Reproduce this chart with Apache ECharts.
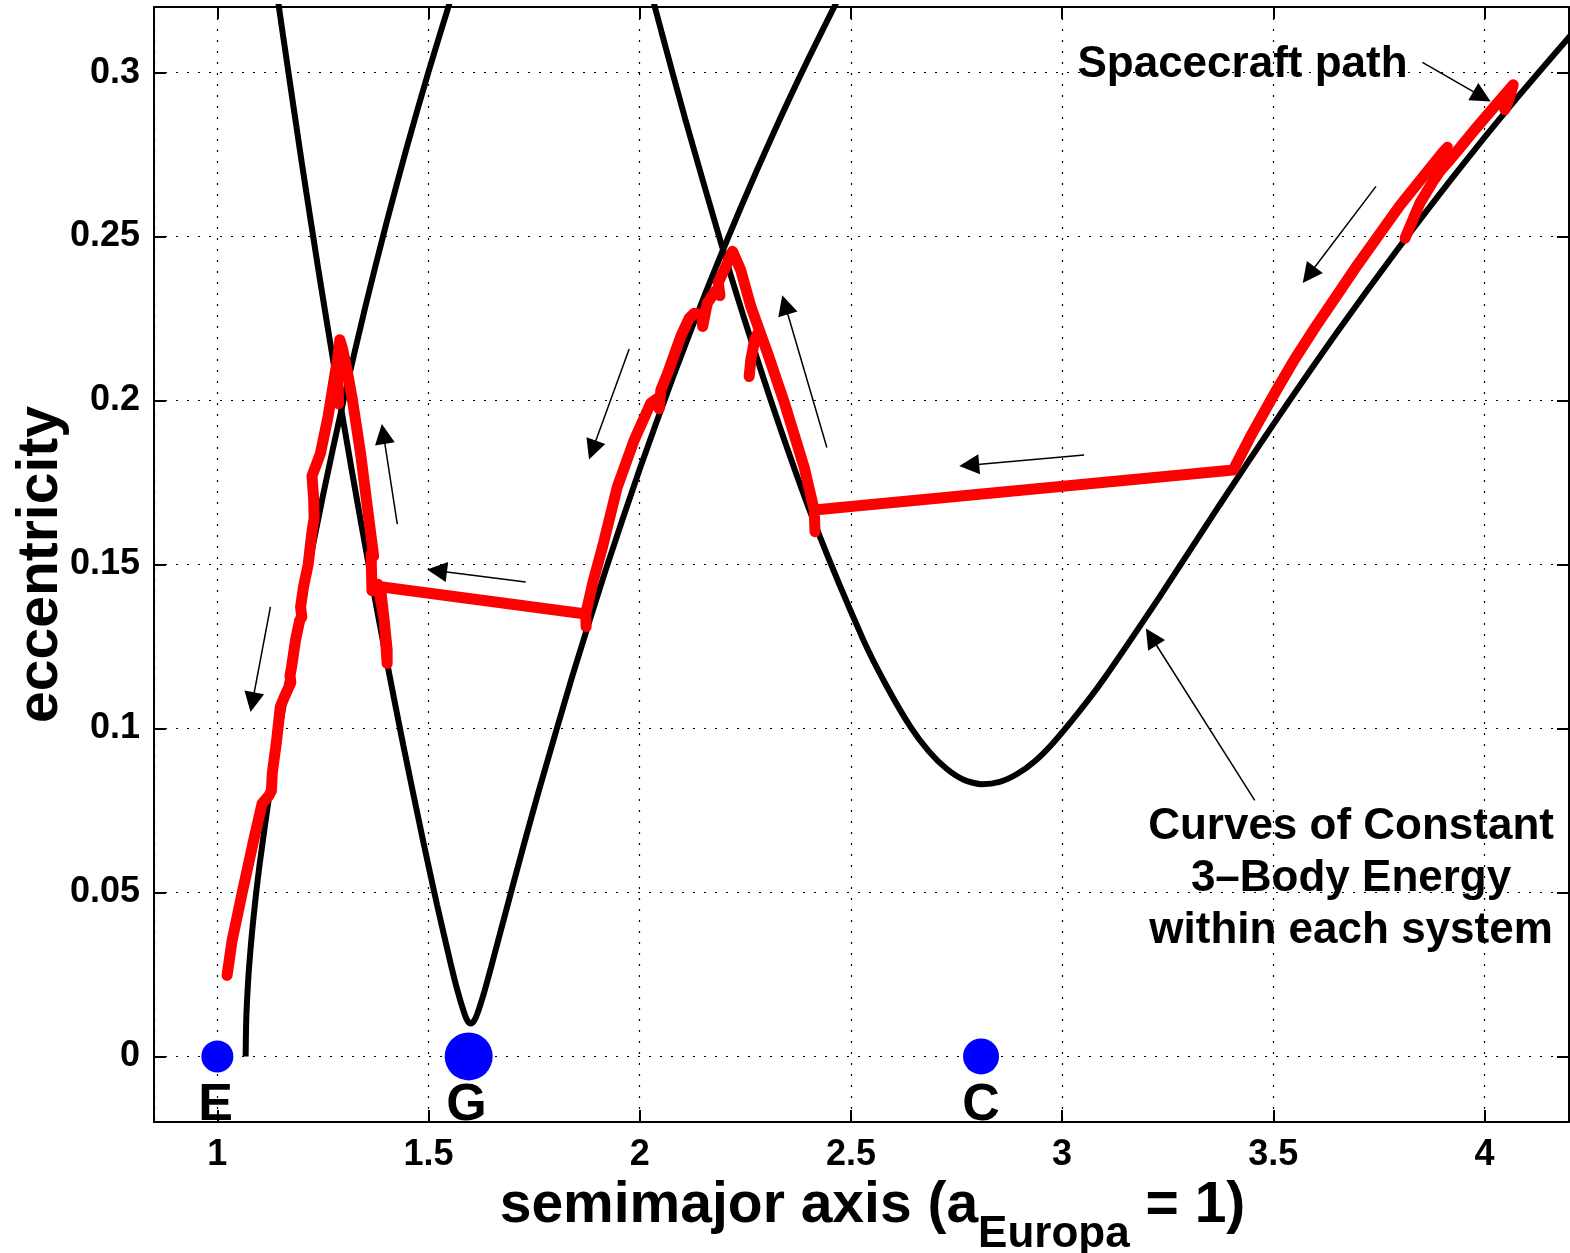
<!DOCTYPE html>
<html>
<head>
<meta charset="utf-8">
<script src="https://cdn.jsdelivr.net/npm/echarts@6/dist/echarts.min.js"></script>
<style>html,body{margin:0;padding:0;background:#fff}#c{width:1570px;height:1253px}</style>
</head>
<body>
<div id="c"></div>
<script>
// ---- tick labels ----
const xTickValues = [1, 1.5, 2, 2.5, 3, 3.5, 4];
const xTickLabels = ['1', '1.5', '2', '2.5', '3', '3.5', '4'];
const yTickValues = [0, 0.05, 0.1, 0.15, 0.2, 0.25, 0.3];
const yTickLabels = ['0', '0.05', '0.1', '0.15', '0.2', '0.25', '0.3'];

// ---- curves of constant 3-body energy (a, e) ----
const europaCurve = [[1.067,0],[1.068,0.0094],[1.07,0.0163],[1.075,0.0270],[1.085,0.0416],[1.1,0.0585],[1.125,0.0815],[1.15,0.1021],[1.2,0.1385],[1.25,0.1710],[1.3,0.2008],[1.35,0.2284],[1.4,0.2540],[1.45,0.2779],[1.5,0.3003],[1.55,0.3213],[1.56,0.3253]];
const ganymedeCurve = [[1.136,0.3289],[1.152,0.3144],[1.2,0.2724],[1.24,0.2392],[1.28,0.2076],[1.32,0.1774],[1.36,0.1486],[1.40,0.1212],[1.44,0.0950],[1.488,0.0652],[1.52,0.0463],[1.552,0.0285],[1.568,0.0203],[1.584,0.0134],[1.592,0.0109],[1.6,0.0100],[1.608,0.0109],[1.616,0.0132],[1.632,0.0197],[1.648,0.0272],[1.68,0.0427],[1.72,0.0619],[1.76,0.0805],[1.84,0.1158],[1.92,0.1486],[2.0,0.1791],[2.08,0.2076],[2.16,0.2342],[2.24,0.2591],[2.32,0.2825],[2.4,0.3044],[2.48,0.3251]];
const callistoCurve = [[2.0232,0.3262],[2.0513,0.3125],[2.1075,0.2859],[2.1918,0.2483],[2.248,0.2247],[2.3323,0.1917],[2.4166,0.1617],[2.529,0.1271],[2.585,0.1128],[2.6414,0.1004],[2.684,0.0931],[2.7257,0.0878],[2.768,0.0843],[2.81,0.0830],[2.852,0.0837],[2.8943,0.0862],[2.936,0.0901],[2.9786,0.0956],[3.035,0.1043],[3.091,0.1137],[3.2315,0.1403],[3.372,0.1680],[3.5125,0.1951],[3.653,0.2212],[3.7935,0.2460],[3.934,0.2696],[4.0745,0.2919],[4.215,0.3130]];

// ---- spacecraft path (a, e) ----
const pathTopRight = [[4.048,0.2887],[4.060,0.2927],[4.068,0.2963],[4.024,0.2897],[3.977,0.2826],[3.938,0.2765],[3.918,0.2734],[3.895,0.2700],[3.878,0.2668],[3.847,0.2602],[3.827,0.2541],[3.812,0.2495]];
const pathMain = [
  [3.912,0.2772],[3.900,0.2755],[3.850,0.2675],[3.800,0.2595],[3.750,0.2505],[3.700,0.2415],[3.650,0.2320],[3.600,0.2225],[3.550,0.2125],[3.500,0.2015],[3.450,0.1900],[3.405,0.1788],
  [2.413,0.1666],[2.415,0.1600],[2.413,0.1666],
  [2.389,0.1798],[2.342,0.1995],[2.303,0.2143],[2.283,0.2215],
  [2.272,0.2185],[2.263,0.2124],[2.259,0.2073],[2.263,0.2124],[2.272,0.2185],[2.283,0.2215],
  [2.263,0.2287],[2.239,0.2398],[2.2196,0.2455],
  [2.200,0.2398],[2.186,0.2360],[2.190,0.2320],[2.180,0.2335],[2.160,0.2297],[2.149,0.2226],[2.147,0.2262],[2.129,0.2266],[2.117,0.2251],[2.097,0.2195],[2.066,0.2083],[2.050,0.2032],[2.046,0.1975],[2.040,0.2005],[2.026,0.1992],[1.987,0.1880],[1.947,0.1737],[1.912,0.1554],[1.890,0.1450],[1.872,0.1349],[1.873,0.1310],[1.872,0.1349],
  [1.386,0.1432],[1.395,0.1330],[1.402,0.1240],[1.402,0.1198],[1.395,0.1330],[1.380,0.1440],[1.366,0.1420],[1.364,0.1530],[1.370,0.1525],[1.359,0.1636],[1.339,0.1839],[1.320,0.2000],[1.307,0.2093],[1.296,0.2160],[1.290,0.2185],
  [1.284,0.2120],[1.287,0.1990],[1.284,0.2120],
  [1.280,0.2093],[1.262,0.1950],[1.244,0.1839],[1.230,0.1790],[1.224,0.1770],[1.228,0.1700],[1.229,0.1640],[1.224,0.1600],[1.215,0.1500],[1.204,0.1432],[1.197,0.1370],[1.200,0.1340],[1.195,0.1330],[1.185,0.1269],[1.176,0.1190],[1.172,0.1160],[1.174,0.1140],[1.160,0.1100],[1.149,0.1066],[1.140,0.0960],[1.130,0.0863],[1.128,0.0810],[1.122,0.0795],[1.106,0.0771],[1.086,0.0659],[1.0585,0.0497],[1.035,0.0354],[1.023,0.0247]
];

// ---- moons ----
const moonNames = ['E', 'G', 'C'];
const moonA = [1.0, 1.595, 2.808];
const moonE = [0, 0, 0];
const moonSize = [32, 48, 36];
const moonLabelA = [0.996, 1.590, 2.808];
const moonLabelE = [-0.015, -0.015, -0.015];

// ---- arrows (tail -> head) ----
const arrowTail = [[3.853,0.3031],[3.743,0.2653],[3.052,0.1834],[2.443,0.1857],[1.975,0.2157],[1.730,0.1447],[1.426,0.1623],[1.1256,0.1371],[3.456,0.0781]];
const arrowHead = [[3.994,0.2927],[3.584,0.2383],[2.780,0.1803],[2.344,0.2292],[1.888,0.1849],[1.520,0.1481],[1.393,0.1898],[1.083,0.1080],[3.211,0.1279]];

// ---- annotations ----
const noteTexts = ['Spacecraft path', 'Curves of Constant\n3\u2013Body Energy\nwithin each system'];
const notePos = [[3.427, 0.3025], [3.684, 0.0542]];

const FONT = "'Liberation Sans', Arial, Helvetica, sans-serif";
const fmt = (vals, labels) => v => {
  for (let i = 0; i < vals.length; i++) if (Math.abs(v - vals[i]) < 1e-9) return labels[i];
  return '';
};
const axisLineStyle = { color: '#000', width: 2 };
const tickStyle = { show: true, inside: true, length: 12, lineStyle: { color: '#000', width: 2 } };
const gridLine = { show: true, lineStyle: { color: '#000', width: 1.2, type: [2, 9] } };

const chart = echarts.init(document.getElementById('c'), null, { renderer: 'canvas', width: 1570, height: 1253 });

const blackLine = (data) => ({
  type: 'line', data: data, symbol: 'none', showSymbol: false, smooth: 0.25, silent: true, z: 2,
  lineStyle: { color: '#000', width: 6 }
});
const redLine = (data) => ({
  type: 'line', data: data, symbol: 'none', showSymbol: false, silent: true, z: 3,
  lineStyle: { color: '#ff0000', width: 11, cap: 'round', join: 'round' }
});

const option = {
  animation: false,
  backgroundColor: '#fff',
  grid: { left: 154, top: 7, width: 1415, height: 1115, containLabel: false, outerBoundsMode: 'none' },
  xAxis: [
    {
      type: 'value', min: 0.85, max: 4.2, minInterval: 0.5, maxInterval: 0.5, position: 'bottom',
      axisLine: { show: true, onZero: false, lineStyle: axisLineStyle },
      axisTick: tickStyle,
      axisLabel: { show: true, margin: 15, fontSize: 36, fontWeight: 'bold', color: '#000', fontFamily: FONT, formatter: fmt(xTickValues, xTickLabels) },
      splitLine: gridLine,
      name: '{m|semimajor axis (a}{s|Europa}{m| = 1)}',
      nameLocation: 'middle', nameGap: 33,
      nameTextStyle: {
        color: '#000', fontFamily: FONT, fontWeight: 'bold', fontSize: 57, padding: [0, 0, 0, 22],
        rich: {
          m: { fontSize: 57, fontWeight: 'bold', fontFamily: FONT, color: '#000', lineHeight: 64, verticalAlign: 'top' },
          s: { fontSize: 44, fontWeight: 'bold', fontFamily: FONT, color: '#000', lineHeight: 44, verticalAlign: 'top', padding: [35, 0, 0, 0] }
        }
      }
    },
    {
      type: 'value', min: 0.85, max: 4.2, minInterval: 0.5, maxInterval: 0.5, position: 'top',
      axisLine: { show: true, onZero: false, lineStyle: axisLineStyle },
      axisTick: tickStyle, axisLabel: { show: false }, splitLine: { show: false }
    }
  ],
  yAxis: [
    {
      type: 'value', min: -0.02, max: 0.32, minInterval: 0.05, maxInterval: 0.05, position: 'left',
      axisLine: { show: true, onZero: false, lineStyle: axisLineStyle },
      axisTick: tickStyle,
      axisLabel: { show: true, margin: 14, fontSize: 36, fontWeight: 'bold', color: '#000', fontFamily: FONT, formatter: fmt(yTickValues, yTickLabels) },
      splitLine: gridLine,
      name: 'eccentricity', nameLocation: 'middle', nameGap: 84, nameRotate: 90, nameMoveOverlap: false,
      nameTextStyle: { color: '#000', fontFamily: FONT, fontWeight: 'bold', fontSize: 57 }
    },
    {
      type: 'value', min: -0.02, max: 0.32, minInterval: 0.05, maxInterval: 0.05, position: 'right',
      axisLine: { show: true, onZero: false, lineStyle: axisLineStyle },
      axisTick: tickStyle, axisLabel: { show: false }, splitLine: { show: false }
    }
  ],
  series: [
    blackLine(europaCurve),
    blackLine(ganymedeCurve),
    blackLine(callistoCurve),
    redLine(pathTopRight),
    redLine(pathMain),
    {
      type: 'scatter', silent: true, z: 4,
      data: moonA.map((a, i) => [a, moonE[i]]),
      symbolSize: (v, p) => moonSize[p.dataIndex],
      itemStyle: { color: '#0000ff', opacity: 1 },
      markLine: {
        silent: true, animation: false,
        symbol: ['none', 'triangle'], symbolSize: 20,
        label: { show: false },
        emphasis: { disabled: true },
        lineStyle: { color: '#000', width: 1.5, type: 'solid', opacity: 1 },
        itemStyle: { color: '#000' },
        data: arrowTail.map((t, i) => [{ coord: t }, { coord: arrowHead[i] }])
      }
    },
    {
      type: 'scatter', silent: true, z: 5,
      data: moonLabelA.map((a, i) => [a, moonLabelE[i]]),
      symbolSize: 1, itemStyle: { color: 'rgba(0,0,0,0)', opacity: 1 },
      label: { show: true, position: 'inside', opacity: 1, formatter: p => moonNames[p.dataIndex], fontSize: 52, fontWeight: 'bold', color: '#000', fontFamily: FONT }
    },
    {
      type: 'scatter', silent: true, z: 5,
      data: notePos,
      symbolSize: 1, itemStyle: { color: 'rgba(0,0,0,0)', opacity: 1 },
      label: { show: true, position: 'inside', opacity: 1, formatter: p => noteTexts[p.dataIndex], fontSize: 44, lineHeight: 52, align: 'center', fontWeight: 'bold', color: '#000', fontFamily: FONT }
    }
  ]
};
chart.setOption(option);
</script>
</body>
</html>
